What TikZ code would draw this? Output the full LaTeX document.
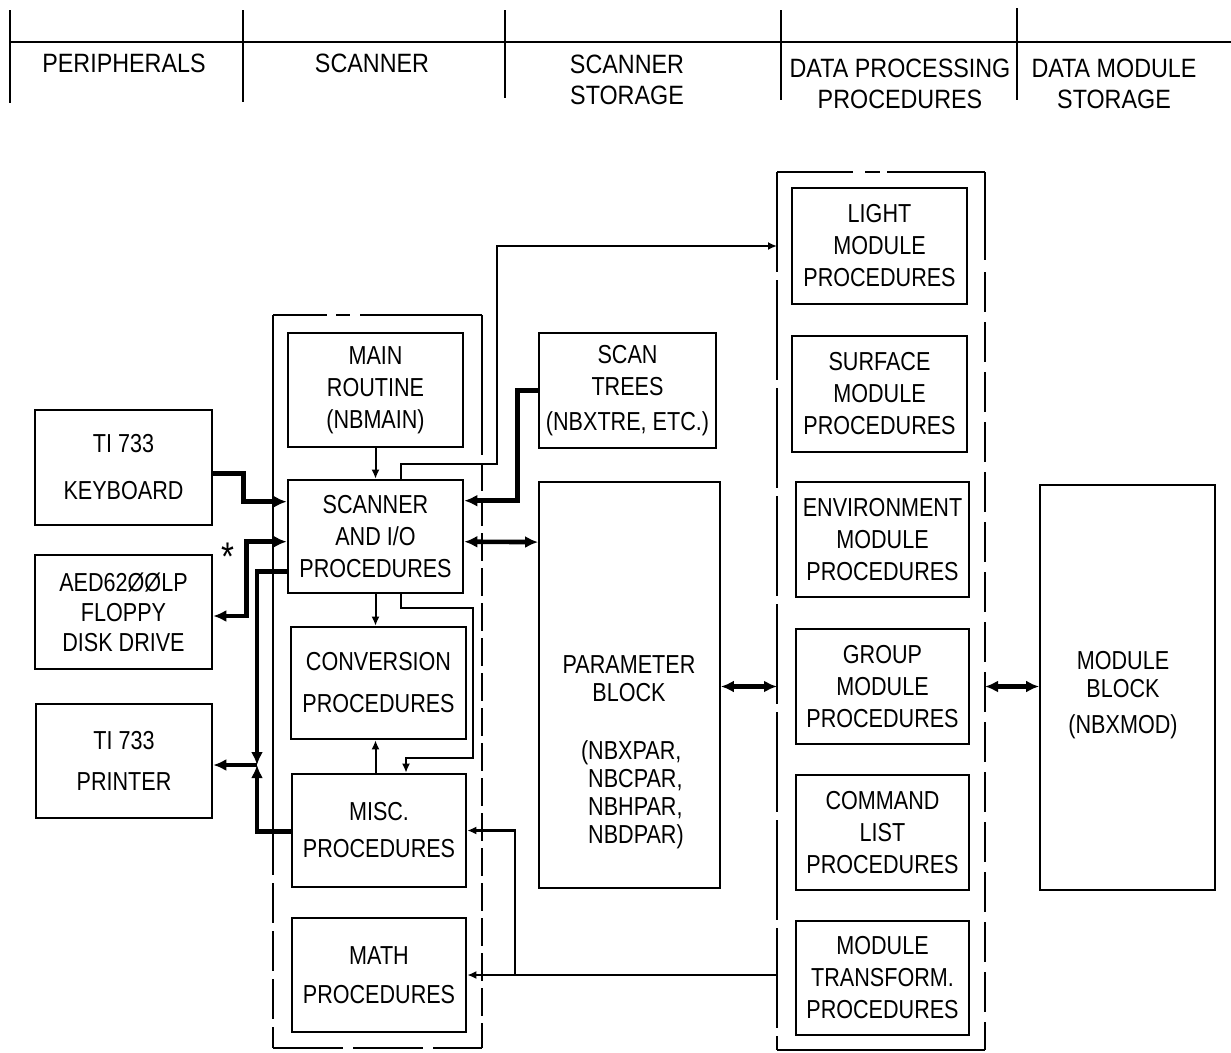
\documentclass[tikz,border=0pt]{standalone}
\usepackage{fontspec}
\setmainfont[FakeStretch=0.83]{Liberation Sans}
\newfontfamily\hdrfamily[FakeStretch=0.88]{Liberation Sans}
\usetikzlibrary{arrows.meta,calc}
\newcommand{\lblfont}{\fontsize{26}{32}\selectfont}
\newcommand{\hdrfont}{\hdrfamily\fontsize{26.5}{31}\selectfont}

\begin{document}
\begin{tikzpicture}[x=1pt,y=-1pt,
  proc/.style={draw, rectangle, line width=2.6pt, inner sep=0pt, align=center, font=\lblfont},
  store/.style={proc, line width=1.8pt},
  area/.style={rectangle, inner sep=0pt, outer sep=0pt},
  outline/.style={line width=2pt},
  divider/.style={line width=2.4pt},
  hdr/.style={align=center, font=\hdrfont, inner sep=0pt},
  bus/.style={line width=4.6pt},
  wire/.style={line width=2pt},
  feed/.style={line width=2.6pt},
  toB/.style={-{Latex[length=13pt,width=12pt]}},
  bothB/.style={{Latex[length=13pt,width=12pt]}-{Latex[length=13pt,width=12pt]}},
  toS/.style={-{Latex[length=9pt,width=8pt]}},
]
\useasboundingbox (0,0) rectangle (1231,1052);
\fill[white] (0,0) rectangle (1231,1052);

% ---------- column headings ----------
\draw[divider] (10,42) -- (1231,42);
\draw[divider] (10,10) -- (10,103);
\draw[divider] (243,10) -- (243,102);
\draw[divider] (505,10) -- (505,98);
\draw[divider] (781,10) -- (781,100);
\draw[divider] (1017,8) -- (1017,100);
\node[hdr] (hp)  at (124,63) {PERIPHERALS};
\node[hdr] (hs)  at (372,63) {SCANNER};
\node[hdr] (hss) at (627,80) {SCANNER\\STORAGE};
\node[hdr] (hdp) at (900,84) {DATA PROCESSING\\PROCEDURES};
\node[hdr] (hdm) at (1114,84) {DATA MODULE\\STORAGE};

% ---------- peripherals ----------
\node[proc, minimum width=177pt, minimum height=115pt] (kb) at (123.5,467.5) {TI 733\\[15pt]KEYBOARD};
\node[proc, minimum width=177pt, minimum height=114pt] (fd) at (123.5,612) {AED62ØØLP\\[-2pt]FLOPPY\\[-2pt]DISK DRIVE};
\node[proc, minimum width=176pt, minimum height=114pt] (pr) at (124,761) {TI 733\\[9pt]PRINTER};

% ---------- scanner ----------
\node[area, minimum width=209pt, minimum height=733pt] (sc) at (377.5,681.5) {};
\node[proc, minimum width=175pt, minimum height=114pt] (main) at (375.5,390) {MAIN\\ROUTINE\\(NBMAIN)};
\node[proc, minimum width=175pt, minimum height=113pt] (scan) at (375.5,536.5) {SCANNER\\AND I/O\\PROCEDURES};
\node[proc, minimum width=175pt, minimum height=112pt] (conv) at (378.5,683) {CONVERSION\\[10pt]PROCEDURES};
\node[proc, minimum width=174pt, minimum height=113pt] (misc) at (379,830.5) {MISC.\\[5pt]PROCEDURES};
\node[proc, minimum width=174pt, minimum height=114pt] (math) at (379,975) {MATH\\[7pt]PROCEDURES};

% scanner enclosure
\draw[outline] (sc.north west) -- ($(sc.north west)+(54,0)$);
\draw[outline] ($(sc.north west)+(63,0)$) -- ($(sc.north west)+(77,0)$);
\draw[outline] ($(sc.north west)+(87,0)$) -- (sc.north east);
\draw[outline] (sc.north east) -- ($(sc.north east)+(0,140)$);
\draw[outline, dash pattern=on 28pt off 7pt] ($(sc.north east)+(0,148)$) -- (sc.south east);
\draw[outline] (sc.north west) -- ($(sc.north west)+(0,560)$);
\draw[outline, dash pattern=on 40pt off 8pt] ($(sc.north west)+(0,568)$) -- (sc.south west);
\draw[outline, dash pattern=on 70pt off 10pt] (sc.south west) -- (sc.south east);

% ---------- scanner storage ----------
\node[proc, minimum width=177pt, minimum height=115pt] (trees) at (627.5,390.5) {SCAN\\TREES\\[3pt](NBXTRE, ETC.)};
\node[store, minimum width=181pt, minimum height=406pt] (param) at (629.5,685) {};
\node[font=\lblfont, align=center, inner sep=0pt] (ptitle) at (629,679) {PARAMETER\\[-4pt]BLOCK};
\node[font=\lblfont, align=left, inner sep=0pt] (plist) at (636,795) {\llap{(}NBXPAR,\\[-4pt]NBCPAR,\\[-4pt]NBHPAR,\\[-4pt]NBDPAR)};

% ---------- data processing procedures ----------
\node[area, minimum width=208pt, minimum height=878pt] (dpc) at (881,611) {};
\node[proc, minimum width=175pt, minimum height=116pt] (light) at (879.5,246) {LIGHT\\MODULE\\PROCEDURES};
\node[proc, minimum width=175pt, minimum height=116pt] (surf) at (879.5,394) {SURFACE\\MODULE\\PROCEDURES};
\node[proc, minimum width=173pt, minimum height=115pt] (env) at (882.5,539.5) {ENVIRONMENT\\MODULE\\PROCEDURES};
\node[proc, minimum width=173pt, minimum height=115pt] (grp) at (882.5,686.5) {GROUP\\MODULE\\PROCEDURES};
\node[proc, minimum width=173pt, minimum height=115pt] (cmd) at (882.5,832.5) {COMMAND\\LIST\\PROCEDURES};
\node[proc, minimum width=173pt, minimum height=114pt] (mtr) at (882.5,978) {MODULE\\TRANSFORM.\\PROCEDURES};

% data processing enclosure
\draw[outline] (dpc.north west) -- ($(dpc.north west)+(76,0)$);
\draw[outline] ($(dpc.north west)+(88,0)$) -- ($(dpc.north west)+(103,0)$);
\draw[outline] ($(dpc.north west)+(110,0)$) -- (dpc.north east);
\draw[outline, dash pattern=on 100pt off 8pt] (dpc.north west) -- (dpc.south west);
\draw[outline] (dpc.north east) -- ($(dpc.north east)+(0,88)$);
\draw[outline, dash pattern=on 40pt off 10pt] ($(dpc.north east)+(0,100)$) -- (dpc.south east);
\draw[outline] (dpc.south west) -- (dpc.south east);

% ---------- data module storage ----------
\node[store, minimum width=175pt, minimum height=405pt] (mb) at (1127.5,687.5) {};
\node[font=\lblfont, align=center, inner sep=0pt] (mbtext) at (1123,695) {MODULE\\[-4pt]BLOCK\\[4pt](NBXMOD)};

% ---------- connections ----------
% keyboard input
\draw[bus, toB] ($(kb.north east)+(0,65)$) -| ($(scan.north west)+(-43,23)$) -- ($(scan.north west)+(0,23)$);
% floppy disk, both directions
\draw[bus, bothB] ($(scan.north west)+(0,63)$) -| ($(fd.east)+(33,4)$) -- ($(fd.east)+(0,4)$);
\node[font=\fontsize{40}{40}\selectfont, inner sep=0pt] (star) at (228,557) {*};
% printer output, fed from scanner and misc
\coordinate (pj) at (257,765);
\draw[bus, toB] ($(scan.north west)+(0,93)$) -| (pj);
\draw[bus, toB] ($(misc.north west)+(0,59)$) -| (pj);
\draw[bus, toB] (pj) -- (pj -| pr.east);
% main routine calls scanner
\draw[wire, toS] (main.south) -- (scan.north);
% scanner to data processing procedures
\draw[wire, toS] ($(scan.north west)+(114,0)$) |- ($(scan.north west)+(210,-15)$) |- (dpc.west |- light.west);
% scan trees to scanner
\draw[bus, toB] (trees.west) -| ($(scan.north east)+(53,22)$) -- ($(scan.north east)+(0,22)$);
% scanner <-> parameter block
\draw[bus, bothB] ($(scan.north east)+(0,63)$) -- ($(param.north west)+(0,61)$);
% parameter block <-> data processing
\draw[bus, bothB] (param.east |- grp.west) -- (dpc.west |- grp.west);
% data processing <-> module block
\draw[bus, bothB] (dpc.east |- grp.east) -- (mb.west |- grp.east);
% scanner to conversion and misc
\draw[wire, toS] (scan.south) -- (scan.south |- conv.north);
\coordinate (r1) at (473,608);
\coordinate (r2) at (406,758);
\draw[wire, toS] ($(scan.south west)+(114,0)$) |- (r1) |- (r2) -- (r2 |- misc.north);
% misc to conversion
\draw[wire, toS] (scan.south |- misc.north) -- (scan.south |- conv.south);
% data processing back to math and misc
\coordinate (mj) at (515,975);
\draw[feed, toS] (dpc.west |- math.east) -- (math.east);
\draw[feed, toS] (mj) |- (misc.east);
\end{tikzpicture}
\end{document}
